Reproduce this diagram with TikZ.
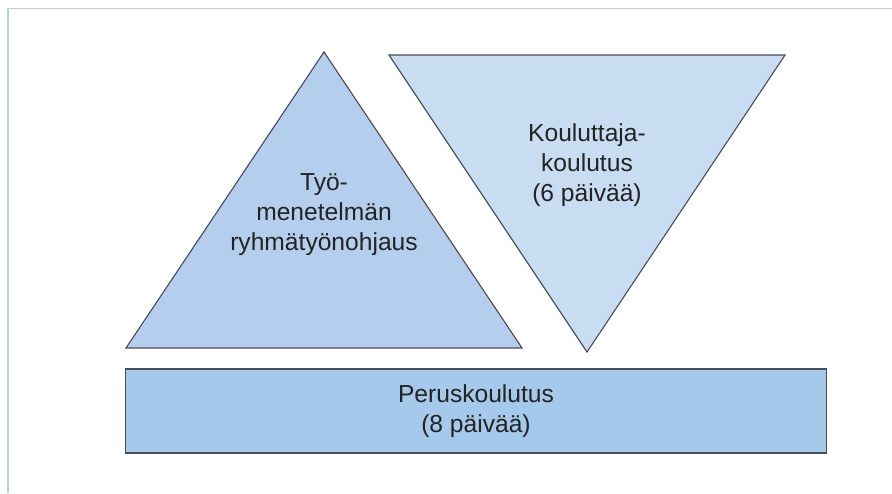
\documentclass[tikz,border=0pt]{standalone}
\usepackage{fontspec}
\setmainfont{Liberation Sans}
\usetikzlibrary{positioning}
\definecolor{frameblue}{RGB}{180,204,238}
\definecolor{pyrfill}{RGB}{180,207,237}
\definecolor{invfill}{RGB}{200,221,242}
\definecolor{basefill}{RGB}{164,201,234}
\definecolor{edgegray}{RGB}{75,75,85}
\definecolor{txtgray}{RGB}{35,35,35}
\tikzset{
  outline/.style={draw=edgegray, line width=0.8pt},
  lbl/.style={align=center, text=txtgray, font=\fontsize{17.5}{21.3}\selectfont}
}

\begin{document}
\begin{tikzpicture}[x=0.025cm, y=-0.025cm]
  \useasboundingbox (0,0) rectangle (892,493);
  \draw[frameblue, line width=1.4pt] (8,493) -- (8,8.5) -- (892,8.5);

  \draw[outline, fill=pyrfill] (126,348) -- (324,52) -- (522,348) -- cycle;
  \draw[outline, fill=invfill] (389,55) -- (785,55) -- (587,352) -- cycle;
  \node[outline, fill=basefill, minimum width=17.5cm, minimum height=2.1cm] (base) at (476,411) {};

  \node[lbl] (tyo) at (324,215) {Työ-\\menetelmän\\ryhmätyönohjaus};
  \node[lbl] (kouluttaja) at (587,165) {Kouluttaja-\\koulutus\\(6 päivää)};
  \node[lbl] (perus) at (base.center) {Peruskoulutus\\(8 päivää)};
\end{tikzpicture}
\end{document}
